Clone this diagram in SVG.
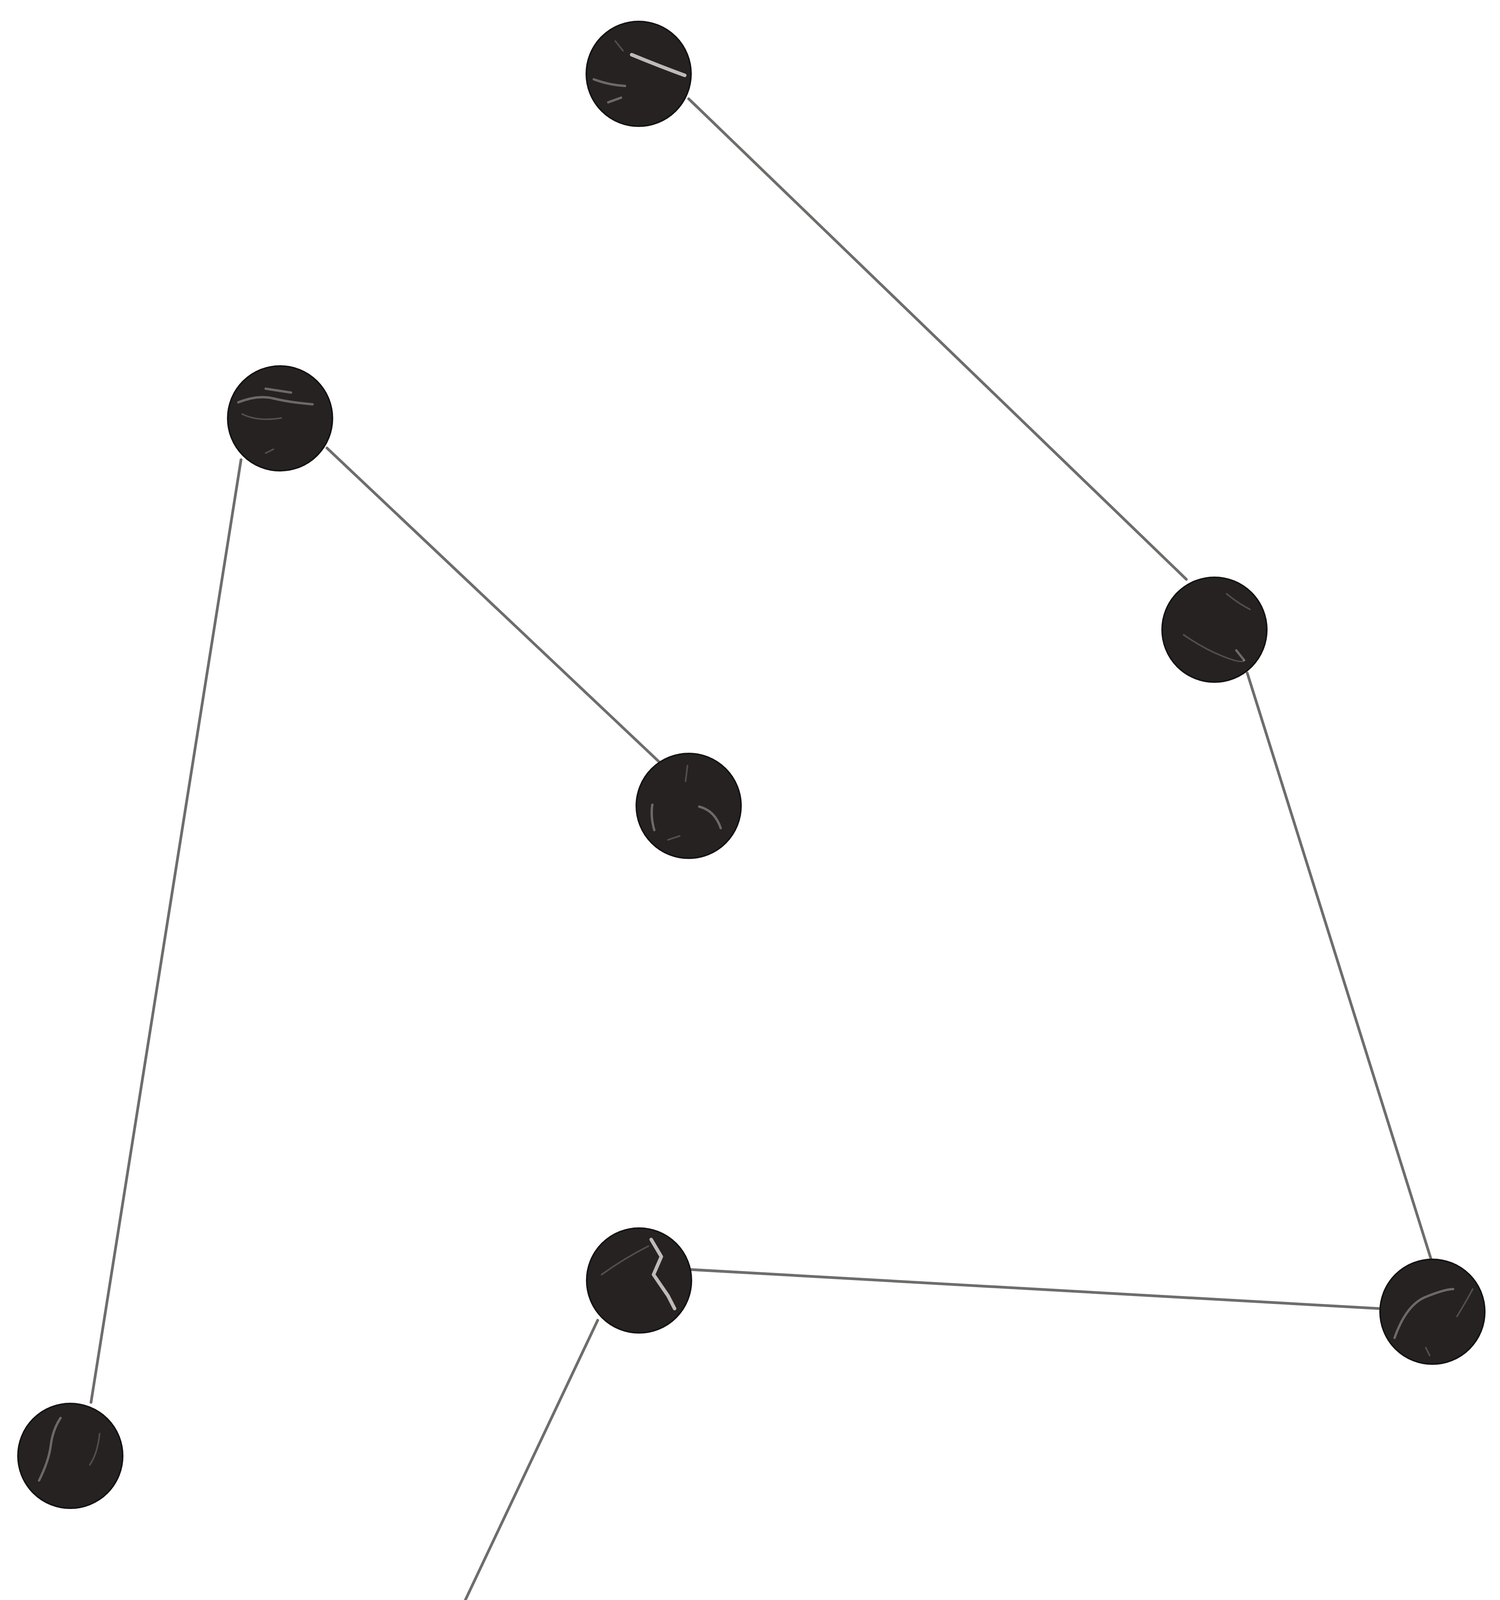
<svg xmlns="http://www.w3.org/2000/svg" width="3840" height="5305" viewBox="0 0 3840 5305">
<style>
.edge{stroke:#6f6d6b;stroke-width:7;stroke-linecap:round;fill:none}
.ball{fill:#262221;stroke:#151313;stroke-width:4}
.vein{fill:none;stroke:#d8d6d2;stroke-linecap:round;stroke-linejoin:round}
.v1{stroke-width:9;opacity:.85}
.v2{stroke-width:6;opacity:.4}
.v3{stroke-width:4;opacity:.25}
</style>
<defs>
<radialGradient id="shade" cx="45%" cy="40%" r="60%">
<stop offset="0" stop-color="#3a3533"/>
<stop offset="1" stop-color="#1c1918"/>
</radialGradient>
</defs>
<rect width="3840" height="5305" fill="#ffffff"/>
<g id="connectors">
<line class="edge" x1="1763" y1="253" x2="3037" y2="1483"/>
<line class="edge" x1="837" y1="1147" x2="1687" y2="1950"/>
<line class="edge" x1="617" y1="1177" x2="233" y2="3590"/>
<line class="edge" x1="3193" y1="1723" x2="3663" y2="3222"/>
<line class="edge" x1="1767" y1="3250" x2="3533" y2="3350"/>
<line class="edge" x1="1530" y1="3380" x2="767" y2="4993"/>
</g>
<g id="node1">
<circle class="ball" cx="1635" cy="189" r="134" fill="url(#shade)"/>
<path class="vein v1" d="M1617 140 Q1690 170 1753 193"/>
<path class="vein v2" d="M1520 203 Q1560 218 1600 220"/>
<path class="vein v2" d="M1557 262 L1590 250"/>
<path class="vein v3" d="M1575 105 L1595 130"/>
</g>
<g id="node2">
<circle class="ball" cx="717" cy="1071" r="134" fill="url(#shade)"/>
<path class="vein v2" d="M610 1030 Q660 1010 700 1020 T800 1035"/>
<path class="vein v2" d="M680 995 L745 1005"/>
<path class="vein v3" d="M620 1060 Q660 1080 720 1070"/>
<path class="vein v3" d="M680 1160 L700 1150"/>
</g>
<g id="node3">
<circle class="ball" cx="3109" cy="1612" r="134" fill="url(#shade)"/>
<path class="vein v3" d="M3030 1625 Q3080 1660 3130 1680 T3185 1690"/>
<path class="vein v2" d="M3165 1665 L3185 1690"/>
<path class="vein v3" d="M3140 1520 Q3170 1545 3200 1560"/>
</g>
<g id="node4">
<circle class="ball" cx="1763" cy="2063" r="134" fill="url(#shade)"/>
<path class="vein v2" d="M1670 2060 Q1665 2090 1675 2125"/>
<path class="vein v3" d="M1760 1960 L1755 2000"/>
<path class="vein v2" d="M1790 2065 Q1830 2075 1845 2120"/>
<path class="vein v3" d="M1710 2150 L1740 2140"/>
</g>
<g id="node5">
<circle class="ball" cx="1636" cy="3278" r="134" fill="url(#shade)"/>
<path class="vein v1" d="M1667 3173 L1693 3217 L1673 3263 L1710 3317 L1727 3350"/>
<path class="vein v3" d="M1540 3263 Q1600 3220 1660 3190"/>
</g>
<g id="node6">
<circle class="ball" cx="3667" cy="3358" r="134" fill="url(#shade)"/>
<path class="vein v2" d="M3570 3425 Q3600 3340 3650 3320 T3720 3300"/>
<path class="vein v3" d="M3730 3370 Q3760 3320 3770 3300"/>
<path class="vein v3" d="M3650 3450 L3660 3470"/>
</g>
<g id="node7">
<circle class="ball" cx="180" cy="3727" r="134" fill="url(#shade)"/>
<path class="vein v2" d="M155 3630 Q135 3660 130 3700 T100 3790"/>
<path class="vein v3" d="M255 3670 Q250 3720 230 3750"/>
</g>
<g id="node8">
<circle class="ball" cx="727" cy="5133" r="134" fill="url(#shade)"/>
<path class="vein v2" d="M667 5033 Q690 5070 700 5080 T760 5060"/>
<path class="vein v3" d="M620 5170 Q650 5140 680 5120"/>
<path class="vein v2" d="M785 5140 L790 5150"/>
</g>
</svg>
